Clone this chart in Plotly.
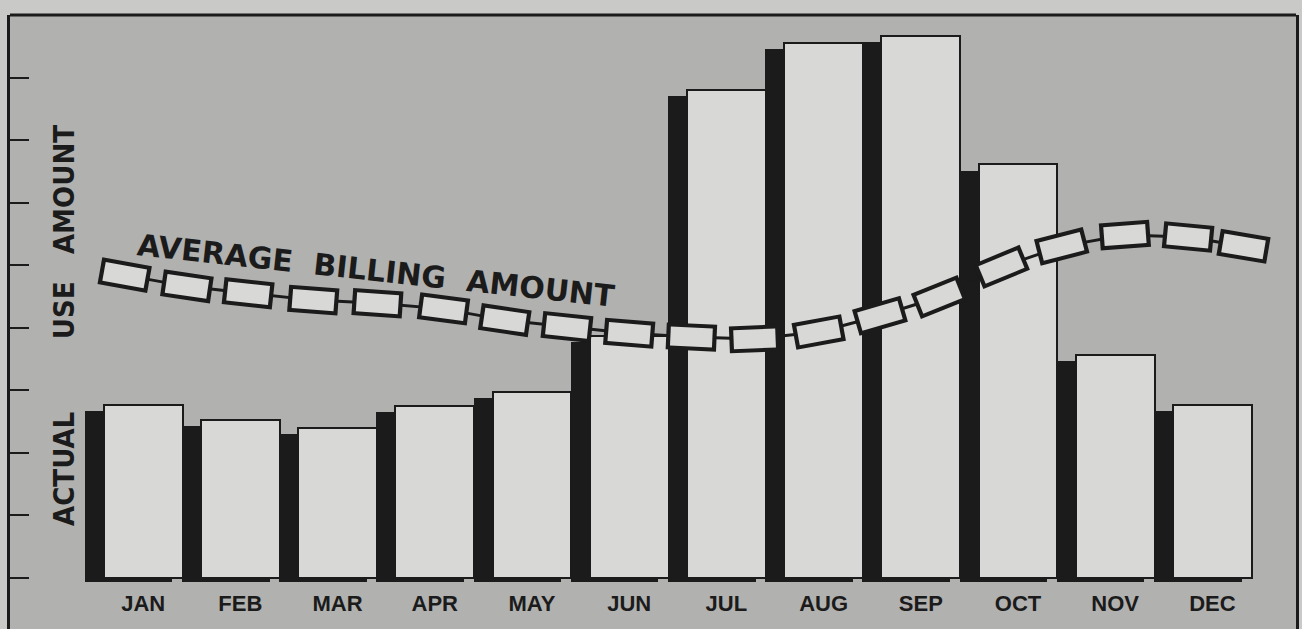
import math
import plotly.graph_objects as go

# ---------------- data ----------------
months = ["JAN", "FEB", "MAR", "APR", "MAY", "JUN",
          "JUL", "AUG", "SEP", "OCT", "NOV", "DEC"]
actual_use = [2.76, 2.52, 2.40, 2.75, 2.97, 3.87,
              7.80, 8.55, 8.67, 6.61, 3.56, 2.76]

# average billing amount curve (positions in month units)
avg_x = [-0.19, 0.45, 1.08, 1.75, 2.41, 3.09, 3.72, 4.36, 5.00, 5.64,
         6.29, 6.95, 7.58, 8.19, 8.83, 9.45, 10.10, 10.75, 11.32]
avg_y = [4.84, 4.66, 4.55, 4.44, 4.39, 4.30, 4.12, 4.01, 3.91, 3.85,
         3.82, 3.93, 4.19, 4.49, 4.97, 5.30, 5.48, 5.45, 5.30]

y_ticks = [0, 1, 2, 3, 4, 5, 6, 7, 8]

y_title = "ACTUAL USE AMOUNT"
line_label = "AVERAGE BILLING AMOUNT"

# ---------------- layout constants ----------------
W, H = 1302, 629
ML, MR, MT, MB = 10, 6, 15, 0
X_RANGE = [-1.37, 11.86]
Y_RANGE = [-0.82, 9.0]

PAPER = "#c9c9c7"
PLOT_BG = "#b1b1af"
FACE = "#d8d8d6"
INK = "#1b1b1b"

px_x = (W - ML - MR) / (X_RANGE[1] - X_RANGE[0])
px_y = (H - MT - MB) / (Y_RANGE[1] - Y_RANGE[0])

# marker rotation following the curve (pixel space)
angles = []
n = len(avg_x)
for i in range(n):
    a, b = max(i - 1, 0), min(i + 1, n - 1)
    dx = (avg_x[b] - avg_x[a]) * px_x
    dy = -(avg_y[b] - avg_y[a]) * px_y
    angles.append(math.degrees(math.atan2(dy, dx)))

x_pos = list(range(len(months)))

SHADOW_BASE = -0.07
SHADOW_DROP = 0.10
shadow_len = [v - SHADOW_DROP - SHADOW_BASE for v in actual_use]

fig = go.Figure()

# bar shadows (dark side)
fig.add_trace(go.Bar(
    x=x_pos, y=shadow_len, base=SHADOW_BASE,
    width=0.9, offset=-0.6,
    marker=dict(color=INK, line=dict(width=0)),
    hoverinfo="skip", showlegend=False,
))
# bar faces
fig.add_trace(go.Bar(
    x=x_pos, y=actual_use,
    width=0.81, offset=-0.405,
    marker=dict(color=FACE, line=dict(color=INK, width=2)),
    name="Actual use", showlegend=False,
))

# connecting line + outer black rectangles
fig.add_trace(go.Scatter(
    x=avg_x, y=avg_y, mode="lines+markers",
    line=dict(color=INK, width=3),
    marker=dict(symbol="line-ew", size=36, angle=angles,
                color=INK, line=dict(color=INK, width=27)),
    hoverinfo="skip", showlegend=False,
))
# inner light rectangles
fig.add_trace(go.Scatter(
    x=avg_x, y=avg_y, mode="markers",
    marker=dict(symbol="line-ew", size=30, angle=angles,
                color=FACE, line=dict(color=FACE, width=19)),
    name="Average billing amount", showlegend=False,
))

fig.update_layout(
    width=W, height=H,
    margin=dict(l=ML, r=MR, t=MT, b=MB),
    paper_bgcolor=PAPER, plot_bgcolor=PLOT_BG,
    barmode="overlay", bargap=0,
    showlegend=False,
    font=dict(family="Liberation Sans, Arial, sans-serif", color=INK),
    xaxis=dict(
        range=X_RANGE, tickvals=x_pos, ticktext=months,
        showgrid=False, zeroline=False, showline=False,
        ticks="", ticklabelposition="inside", ticklabelstandoff=11,
        tickfont=dict(size=22, weight="bold", color=INK,
                      family="Liberation Sans, Arial, sans-serif"),
        fixedrange=True,
    ),
    yaxis=dict(
        range=Y_RANGE, tickvals=y_ticks, showticklabels=False,
        ticks="inside", ticklen=19, tickwidth=2, tickcolor=INK,
        showgrid=False, zeroline=False,
        showline=True, linewidth=3, linecolor=INK, mirror=True,
        fixedrange=True,
    ),
    shapes=[dict(type="line", xref="paper", yref="paper",
                 x0=0, x1=1, y0=1, y1=1,
                 line=dict(color=INK, width=3))],
    annotations=[
        dict(text=y_title.replace(" ", "\u00a0" * 8, 1).replace(" ", "\u00a0" * 3),
             xref="paper", yref="paper",
             x=(64 - ML) / (W - ML - MR), y=(H - 326) / (H - MT - MB),
             xanchor="center", yanchor="middle",
             textangle=-90, showarrow=False,
             font=dict(size=29, weight="bold", color=INK,
                       family="Liberation Sans Narrow, DejaVu Sans Condensed, Liberation Sans, sans-serif")),
        dict(text=line_label.replace(" ", "\u00a0\u00a0"),
             xref="paper", yref="paper",
             x=(376 - ML) / (W - ML - MR), y=(H - 270) / (H - MT - MB),
             xanchor="center", yanchor="middle",
             textangle=6.2, showarrow=False,
             font=dict(size=30, weight="bold", color=INK,
                       family="DejaVu Sans, sans-serif")),
    ],
)

fig.write_html(
    "out.html",
    config={"displayModeBar": False},
    post_script="document.body.style.margin='0px';"
                "document.body.style.backgroundColor='#c9c9c7';"
                "document.documentElement.style.overflow='hidden';",
)
